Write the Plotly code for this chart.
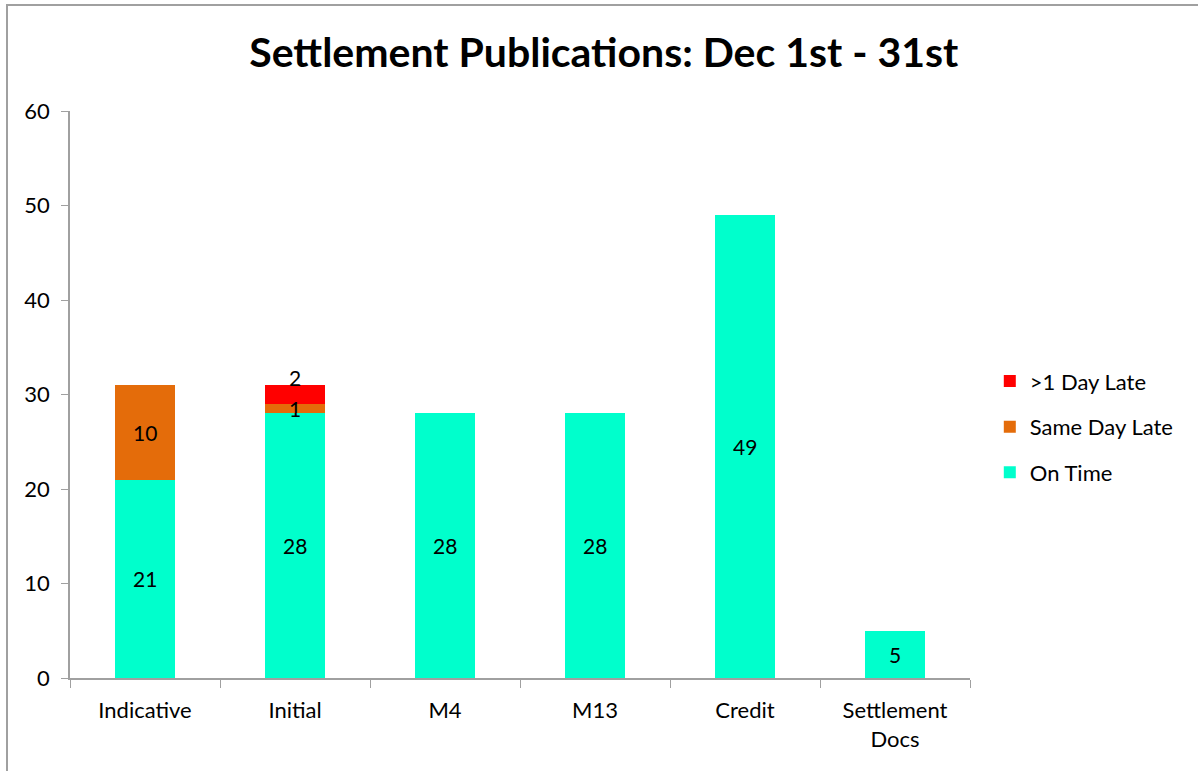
import plotly.graph_objects as go

categories = ["Indicative", "Initial", "M4", "M13", "Credit", "Settlement<br>Docs"]
on_time = [21, 28, 28, 28, 49, 5]
same_day_late = [10, 1, 0, 0, 0, 0]
over_1_day_late = [0, 2, 0, 0, 0, 0]
y_ticks = [0, 10, 20, 30, 40, 50, 60]

series = [
    ("On Time", on_time, "#00FFCC", 3),
    ("Same Day Late", same_day_late, "#E46C0A", 2),
    (">1 Day Late", over_1_day_late, "#FF0000", 1),
]

FONT = "Lato, 'Open Sans', sans-serif"

fig = go.Figure()
for name, vals, color, rank in series:
    fig.add_trace(go.Bar(
        x=categories, y=vals, name=name, marker_color=color,
        marker_line_width=0, legendgroup=name, legendrank=rank, textposition="none",
    ))

# data labels
annotations = []
base = [0] * len(categories)
for name, vals, color, rank in series:
    for j, v in enumerate(vals):
        if v:
            shift = 17 if name == ">1 Day Late" else 0
            annotations.append(dict(
                x=categories[j], y=base[j] + v / 2, text=str(v), showarrow=False,
                xref="x", yref="y", yshift=shift,
                font=dict(family=FONT, size=21, color="#000000"),
            ))
        base[j] += v

fig.update_layout(
    barmode="stack",
    bargap=0.6,
    width=1198, height=771,
    margin=dict(l=70, r=228, t=111, b=93),
    paper_bgcolor="white", plot_bgcolor="white",
    title=dict(text="<b>Settlement Publications: Dec 1st - 31st</b>",
               x=0.504, xanchor="center", y=0.932, yanchor="middle",
               font=dict(family=FONT, size=41, color="#000000")),
    font=dict(family=FONT, size=22, color="#000000"),
    legend=dict(x=1.022, y=0.443, xanchor="left", yanchor="middle",
                traceorder="grouped", tracegroupgap=14,
                font=dict(family=FONT, size=22, color="#000000"),
                itemwidth=30),
    showlegend=True,
    annotations=annotations,
    shapes=[dict(type="rect", xref="paper", yref="paper",
                 x0=(7 - 70) / 900, x1=(1205 - 70) / 900,
                 y0=(678 - 780) / 567, y1=1 + (111 - 5) / 567,
                 line=dict(color="#A0A0A0", width=2), layer="below")],
)

fig.update_xaxes(
    showline=True, linecolor="#A0A0A0", linewidth=1.5,
    ticks="outside", tickson="boundaries", ticklen=8, tickcolor="#A0A0A0",
    showgrid=False, tickfont=dict(family=FONT, size=22, color="#000000"),
    ticklabelstandoff=12,
)
fig.update_yaxes(
    range=[0, 60], tickvals=y_ticks, showline=True, linecolor="#A0A0A0", linewidth=1.5,
    ticks="outside", ticklen=7, tickcolor="#A0A0A0", showgrid=False, zeroline=False,
    tickfont=dict(family=FONT, size=22, color="#000000"), ticklabelstandoff=7,
)

fig.write_html("out.html", config={"displayModeBar": False},
               post_script="document.body.style.margin='0';")
